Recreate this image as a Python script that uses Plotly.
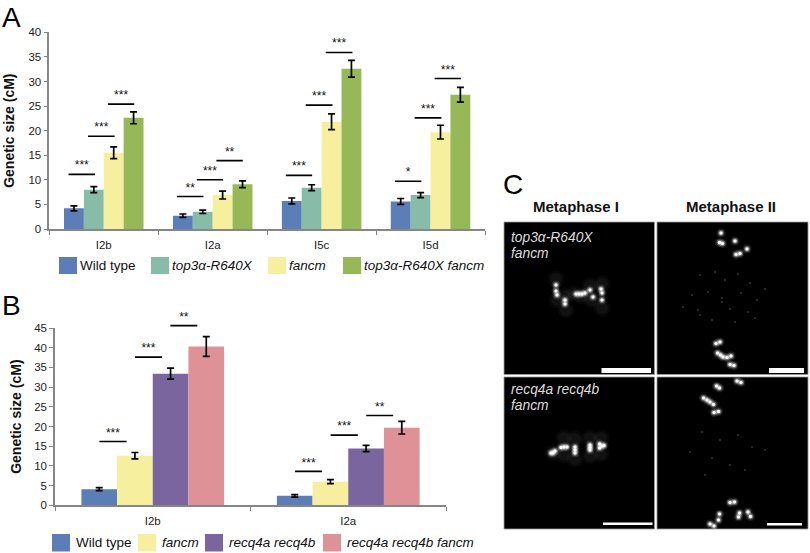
import plotly.graph_objects as go

W, H = 810, 553
FONT = "Liberation Sans"

# Panel A data
a_categories = ["I2b", "I2a", "I5c", "I5d"]
a_series = ["Wild type", "top3α-R640X", "fancm", "top3α-R640X fancm"]
a_values = [[4.2, 2.7, 5.7, 5.6], [8.0, 3.5, 8.4, 6.9], [15.5, 6.9, 21.8, 19.7], [22.6, 9.1, 32.6, 27.3]]
a_errors = [[0.5, 0.35, 0.6, 0.6], [0.6, 0.35, 0.6, 0.5], [1.2, 0.8, 1.6, 1.4], [1.2, 0.7, 1.7, 1.5]]
a_colors = ["#5B7DB8", "#86BCA8", "#F6EF9E", "#96B856"]
a_sig_start = [0.177, 0.355, 0.538, 1.173, 1.354, 1.534, 2.171, 2.354, 2.538, 3.174, 3.354, 3.538]
a_sig_end = [0.419, 0.6, 0.78, 1.415, 1.596, 1.776, 2.413, 2.6, 2.783, 3.416, 3.6, 3.78]
a_sig_y = [11.1, 18.85, 25.4, 6.6, 10.0, 13.9, 10.9, 25.2, 35.9, 9.7, 22.6, 30.6]
a_sig_text = ["***", "***", "***", "**", "***", "**", "***", "***", "***", "*", "***", "***"]

# Panel B data
b_categories = ["I2b", "I2a"]
b_series = ["Wild type", "fancm", "recq4a recq4b", "recq4a recq4b fancm"]
b_values = [[4.1, 2.4], [12.6, 6.0], [33.4, 14.4], [40.3, 19.7]]
b_errors = [[0.4, 0.3], [0.8, 0.5], [1.4, 0.8], [2.5, 1.6]]
b_colors = ["#5B7DB8", "#F6EF9E", "#7B659F", "#DE9298"]
b_sig_start = [0.227, 0.409, 0.59, 1.228, 1.41, 1.592]
b_sig_end = [0.366, 0.547, 0.728, 1.366, 1.549, 1.73]
b_sig_y = [16.2, 37.6, 45.6, 8.6, 17.8, 22.8]
b_sig_text = ["***", "***", "**", "***", "***", "**"]

spots_x = [556, 556, 557, 565, 565, 576, 579, 582, 585, 590, 593, 602, 602, 601,
           721, 719.5, 722.5, 735, 747, 736, 740, 716, 720, 717.5, 720.5, 723, 727, 731, 730, 734,
           551, 553, 555, 561, 564, 567, 575, 575, 575, 590, 590, 590, 599.5, 599.5, 602, 604,
           716.5, 719.5, 737, 741, 703.5, 707, 710, 713.5, 714, 718.5, 730, 734.5,
           719.5, 718.5, 739.5, 738.5, 748, 750.5, 710, 714]
spots_y = [285, 291, 295, 300, 304, 294, 294, 294, 293, 290, 297, 293, 300, 289,
           233, 242.5, 243.5, 241, 249, 254.5, 253.5, 343.5, 342, 353, 355, 357, 357.5, 356, 364.5, 365.5,
           453, 453, 451, 447.5, 447, 447, 447, 450, 453, 445, 447.5, 450, 444, 448, 446, 445.5,
           386, 388, 381, 382.5, 398, 400, 402, 404.5, 412.5, 411.5, 502.5, 502,
           514, 520, 513, 517, 512, 516.5, 524, 526]
# Out-of-focus glow around the metaphase I chromosomes
glow_x = [556, 557, 565, 566, 574, 582, 590, 592, 602, 602,
          553, 564, 564, 575, 575, 590, 590, 601, 601]
glow_y = [279, 300, 296, 310, 294, 296, 286, 300, 284, 308,
          453, 438, 455, 439, 459, 438, 456, 438, 454]
# Faint speckles in the spindle region of the metaphase II cells
faint_x = [700, 715, 725, 738, 750, 692, 708, 722, 741, 757, 765, 683, 698, 730, 748, 712, 735, 700, 722, 755,
           702, 720, 738, 752, 690, 712, 730, 765, 705, 745]
faint_y = [275, 272, 280, 274, 283, 295, 292, 298, 293, 300, 289, 307, 310, 309, 312, 320, 322, 315, 302, 318,
           432, 440, 435, 447, 452, 458, 465, 450, 475, 470]
a_legend_x = [59, 151, 268, 343]
b_legend_x = [52, 138, 205, 323]


def px_x(v):
    return v / W


def px_y(v):
    return 1 - v / H


fig = go.Figure()


def add_panel(cats, series, values, errors, colors, xa, ya, sig_ya, star_lift, sig):
    for name, v, e, c in zip(series, values, errors, colors):
        fig.add_trace(go.Bar(
            x=[i + 0.5 for i in range(len(cats))], y=v, name=name, marker=dict(color=c, line_width=0),
            error_y=dict(type="data", array=e, color="black", thickness=1.7, width=3.5),
            xaxis=xa, yaxis=ya, showlegend=False))
    for s, t, y, label in zip(*sig):
        fig.add_trace(go.Scatter(
            x=[s, t], y=[y, y], mode="lines", line=dict(color="black", width=1.6),
            xaxis=xa, yaxis=sig_ya, showlegend=False, cliponaxis=False, hoverinfo="skip"))
        fig.add_trace(go.Scatter(
            x=[(s + t) / 2], y=[y + star_lift], mode="text", text=[label], textposition="top center",
            textfont=dict(size=12, color="#111", family=FONT),
            xaxis=xa, yaxis=sig_ya, showlegend=False, cliponaxis=False, hoverinfo="skip"))


add_panel(a_categories, a_series, a_values, a_errors, a_colors, "x", "y", "y", 0.4,
          (a_sig_start, a_sig_end, a_sig_y, a_sig_text))
add_panel(b_categories, b_series, b_values, b_errors, b_colors, "x2", "y2", "y4", 0.45,
          (b_sig_start, b_sig_end, b_sig_y, b_sig_text))

# Fluorescent spots, drawn as layers of soft markers
layers = [(glow_x, glow_y, 17, 0.035, "#d0d0d0"), (glow_x, glow_y, 12, 0.05, "#d0d0d0"),
          (faint_x, faint_y, 2, 0.28, "#bbbbbb"),
          (spots_x, spots_y, 9, 0.12, "#dddddd"), (spots_x, spots_y, 6, 0.35, "#eeeeee"),
          (spots_x, spots_y, 3.5, 0.95, "#ffffff")]
for xs, ys, size, op, col in layers:
    fig.add_trace(go.Scatter(
        x=xs, y=ys, mode="markers", xaxis="x3", yaxis="y3", showlegend=False,
        hoverinfo="skip", marker=dict(size=size, color=col, opacity=op, line_width=0)))


def x_axis(cats, dom_l, dom_r, anchor):
    return dict(
        domain=[px_x(dom_l), px_x(dom_r)], range=[0, len(cats)], anchor=anchor,
        tickvals=[i + 0.5 for i in range(len(cats))], ticktext=cats,
        ticks="outside", ticklen=4, tickcolor="rgba(0,0,0,0)",
        minor=dict(tickvals=list(range(len(cats) + 1)), ticks="outside", ticklen=4, tickcolor="#868686"),
        showline=True, linecolor="#868686", linewidth=1.5, showgrid=False, zeroline=False,
        tickfont=dict(size=11.5, color="#222", family=FONT))


def y_axis(top, bottom, vmax, dtick, anchor, standoff):
    return dict(
        domain=[px_y(bottom), px_y(top)], range=[0, vmax], dtick=dtick, anchor=anchor,
        ticks="outside", ticklen=4, tickcolor="#868686", showline=True, linecolor="#868686",
        linewidth=1.5, showgrid=False, zeroline=False, tickfont=dict(size=11.5, color="#222", family=FONT),
        title=dict(text="<b>Genetic size (cM)</b>", standoff=standoff,
                   font=dict(size=14, color="#111", family=FONT)))


shapes, annotations = [], []


def text(x, y, s, size, color="#111", xanchor="center"):
    annotations.append(dict(
        x=px_x(x), y=px_y(y), xref="paper", yref="paper", text=s, showarrow=False, xanchor=xanchor,
        yanchor="middle", font=dict(size=size, color=color, family=FONT)))


def legend(xs, y0, y1, series, colors, text_pad):
    for x, name, c in zip(xs, series, colors):
        shapes.append(dict(type="rect", xref="paper", yref="paper", x0=px_x(x), x1=px_x(x + 18),
                           y0=px_y(y1), y1=px_y(y0), fillcolor=c, line_width=0))
        label = name if name == "Wild type" else f"<i>{name}</i>"
        text(x + 18 + text_pad, (y0 + y1) / 2, label, 13.5, xanchor="left")


legend(a_legend_x, 257, 274, a_series, a_colors, 0.5)
legend(b_legend_x, 534, 551.5, b_series, b_colors, 4)

text(11, 18, "A", 28, "#000")
text(11, 305, "B", 28, "#000")
text(513, 184, "C", 28, "#000")
text(575.5, 206.5, "<b>Metaphase I</b>", 15)
text(730.5, 206.5, "<b>Metaphase II</b>", 15)
text(509, 237, "<i>top3α-R640X</i>", 13.8, "#dddddd", "left")
text(509, 253, "<i>fancm</i>", 13.8, "#dddddd", "left")
text(509, 389, "<i>recq4a recq4b</i>", 13.8, "#dddddd", "left")
text(509, 405, "<i>fancm</i>", 13.8, "#dddddd", "left")

# Micrograph frames and scale bars, on the picture-coordinate axes
for x0, x1, y0, y1 in [(504, 654.5, 222, 374.5), (657, 808, 222, 374.5), (504, 654.5, 377, 529), (657, 808, 377, 529)]:
    shapes.append(dict(type="rect", xref="x3", yref="y3", x0=x0, x1=x1, y0=y0, y1=y1,
                       fillcolor="#000", line=dict(color="#9a9a9a", width=0.8), layer="below"))
for x0, x1, y0, y1 in [(601.5, 651, 368, 373), (769, 804, 368, 373), (603, 652.5, 522.5, 525), (767, 802, 523, 525.5)]:
    shapes.append(dict(type="rect", xref="x3", yref="y3", x0=x0, x1=x1, y0=y0, y1=y1,
                       fillcolor="#fff", line_width=0))

fig.update_layout(
    width=W, height=H, autosize=False, margin=dict(l=0, r=0, t=0, b=0, autoexpand=False),
    paper_bgcolor="white", plot_bgcolor="rgba(0,0,0,0)", barmode="group", bargap=0.27, bargroupgap=0,
    font=dict(family=FONT), showlegend=False,
    xaxis=x_axis(a_categories, 49.3, 485, "y"),
    yaxis=y_axis(32.3, 229, 40, 5, "x", 11),
    xaxis2=x_axis(b_categories, 55, 446, "y2"),
    yaxis2=y_axis(328, 505.3, 45, 5, "x2", 9),
    xaxis3=dict(domain=[px_x(495), 1], range=[495, 810], anchor="y3", visible=False),
    yaxis3=dict(domain=[0, px_y(170)], range=[553, 170], anchor="x3", visible=False),
    # Same scale as yaxis2, reaching higher so the topmost bracket is not dropped
    yaxis4=dict(domain=[px_y(505.3), px_y(308)], range=[0, 45 * (505.3 - 308) / (505.3 - 328)],
                anchor="x2", visible=False),
    shapes=shapes, annotations=annotations)

fig.write_html("out.html", config={"displayModeBar": False}, post_script="document.body.style.margin='0';")
